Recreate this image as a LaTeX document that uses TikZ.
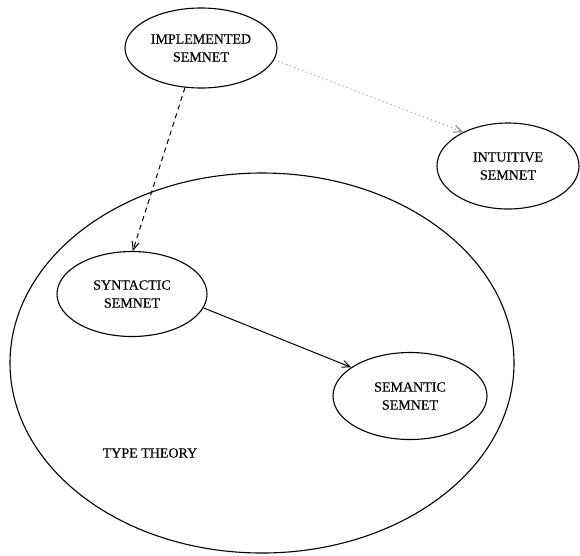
\documentclass[tikz,border=0pt]{standalone}
\usepackage{fontspec}
\setmainfont{Liberation Serif}
\newfontfamily\semfont{Liberation Serif}[FakeBold=0.4]
\usetikzlibrary{shapes.geometric,arrows.meta}
\begin{document}
\begin{tikzpicture}[x=1pt,y=-1pt,
  blob/.style={draw,ellipse,line width=1.1pt,inner sep=0pt,align=center,
    font=\semfont\fontsize{14}{18}\selectfont},
  label/.style={font=\semfont\fontsize{14}{18}\selectfont},
  tip/.style={-{Straight Barb[length=8pt,width=7pt]}},
  link/.style={line width=1pt}]
\useasboundingbox (0,0) rectangle (580,555);

% outer region
\node[blob,minimum width=504pt,minimum height=380pt] (tt) at (262,363) {};
\node[label] (ttl) at (150,453) {TYPE THEORY};

% semnets
\node[blob,minimum width=152pt,minimum height=80pt] (impl) at (201,48) {IMPLEMENTED\\SEMNET};
\node[blob,minimum width=142pt,minimum height=86pt] (intu) at (508,166) {INTUITIVE\\SEMNET};
\node[blob,minimum width=150pt,minimum height=85pt] (syn) at (132,294) {SYNTACTIC\\SEMNET};
\node[blob,minimum width=154pt,minimum height=87pt] (sem) at (410,396) {SEMANTIC\\SEMNET};

% connectors
\draw[link,tip,dashed,dash pattern=on 5pt off 4pt] (impl.-112) -- (syn.89);
\draw[link,tip] (syn.-11) -- (sem.154);
\draw[link,tip,gray,dash pattern=on 0.8pt off 3.5pt] (impl.-9) -- (intu.143.5);
\end{tikzpicture}
\end{document}
